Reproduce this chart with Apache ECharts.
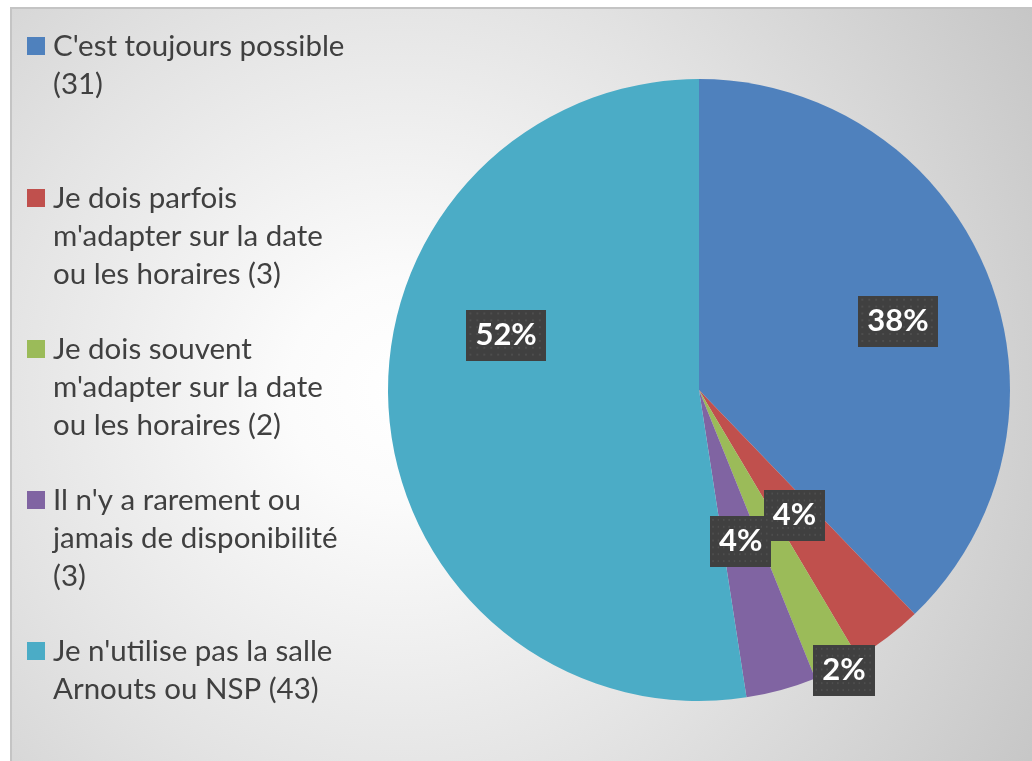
<!DOCTYPE html>
<html>
<head>
<meta charset="utf-8">
<script src="https://cdn.jsdelivr.net/npm/echarts@6/dist/echarts.min.js"></script>
<style>
  html, body { margin: 0; padding: 0; background: #ffffff; }
  #chart { width: 1032px; height: 761px; }
</style>
</head>
<body>
<div id="chart"></div>
<script>
var categories = [
  "C'est toujours possible",
  "Je dois parfois m'adapter sur la date ou les horaires",
  "Je dois souvent m'adapter sur la date ou les horaires",
  "Il n'y a rarement ou jamais de disponibilité",
  "Je n'utilise pas la salle Arnouts ou NSP"
];
var counts = [31, 3, 2, 3, 43];
// legend text as it wraps in the picture
var legendLines = [
  ["C'est toujours possible", "(31)"],
  ["Je dois parfois", "m'adapter sur la date", "ou les horaires (3)"],
  ["Je dois souvent", "m'adapter sur la date", "ou les horaires (2)"],
  ["Il n'y a rarement ou", "jamais de disponibilité", "(3)"],
  ["Je n'utilise pas la salle", "Arnouts ou NSP (43)"]
];
var colors = ['#4f81bd', '#c0504d', '#9bbb59', '#8064a2', '#4bacc6'];

// layout (pixels)
var PIE_CX = 699, PIE_CY = 390, PIE_R = 311;
var LINE_H = 38;
var legendIconY = [46, 198, 349, 500, 651];
var labelRadius = [0.677, 0.506, 1.015, 0.505, 0.645];
var labelAngleShift = [2.9, 0, -1, 0, 20.3];

var total = counts.reduce(function (a, b) { return a + b; }, 0);

// dotted dark box behind the percent labels
var dots = document.createElement('canvas');
dots.width = 80; dots.height = 52;
var g = dots.getContext('2d');
g.fillStyle = '#404040';
g.fillRect(0, 0, 80, 52);
g.fillStyle = '#4e4e4e';
for (var yy = 3; yy < 52; yy += 7) {
  for (var xx = 3; xx < 80; xx += 7) {
    g.fillRect(xx, yy, 2, 2);
  }
}

var legends = categories.map(function (name, i) {
  var n = legendLines[i].length;
  var h = (2 * n - 1) * LINE_H;
  return {
    data: [name],
    orient: 'vertical',
    left: 27,
    top: legendIconY[i] - h / 2,
    padding: 0,
    icon: 'rect',
    itemWidth: 18,
    itemHeight: 18,
    selectedMode: false,
    formatter: function () {
      // blank lines above keep the square level with the first line
      return new Array(n).join('\n') + legendLines[i].join('\n');
    },
    textStyle: {
      fontFamily: 'Lato',
      fontSize: 29.5,
      lineHeight: LINE_H,
      color: '#404040',
      padding: [0, 0, 0, 3]
    }
  };
});

var option = {
  backgroundColor: '#ffffff',
  animation: false,
  color: colors,
  graphic: [{
    type: 'rect',
    silent: true,
    z: -10,
    shape: { x: 11, y: 8, width: 1030, height: 760 },
    style: {
      fill: new echarts.graphic.RadialGradient(400, 390, 740, [
        { offset: 0, color: '#ffffff' },
        { offset: 0.15, color: '#fbfbfb' },
        { offset: 0.55, color: '#e3e3e3' },
        { offset: 1, color: '#c6c6c6' }
      ], true),
      stroke: '#c4c4c4',
      lineWidth: 2
    }
  }],
  legend: legends,
  series: [{
    type: 'pie',
    center: [PIE_CX, PIE_CY],
    radius: PIE_R,
    startAngle: 90,
    clockwise: true,
    silent: true,
    itemStyle: { borderWidth: 0 },
    label: {
      show: true,
      position: 'inside',
      rotate: 0,
      formatter: function (p) { return Math.round(p.percent) + '%'; },
      fontFamily: 'Lato',
      fontWeight: 'bold',
      fontSize: 31,
      lineHeight: 33,
      color: '#ffffff',
      padding: [9, 9],
      backgroundColor: { image: dots },
      shadowColor: 'rgba(0,0,0,0.55)',
      shadowBlur: 5,
      shadowOffsetX: 3,
      shadowOffsetY: 3
    },
    labelLine: { show: false },
    labelLayout: function (p) {
      var i = p.dataIndex;
      var before = 0;
      for (var j = 0; j < i; j++) before += counts[j];
      var ang = ((before + counts[i] / 2) / total * 360 + labelAngleShift[i]) * Math.PI / 180;
      var r = PIE_R * labelRadius[i];
      return { x: PIE_CX + r * Math.sin(ang), y: PIE_CY - r * Math.cos(ang) };
    },
    data: categories.map(function (name, i) {
      return { name: name, value: counts[i] };
    })
  }]
};

var myChart = echarts.init(document.getElementById('chart'));
myChart.setOption(option);
</script>
</body>
</html>
